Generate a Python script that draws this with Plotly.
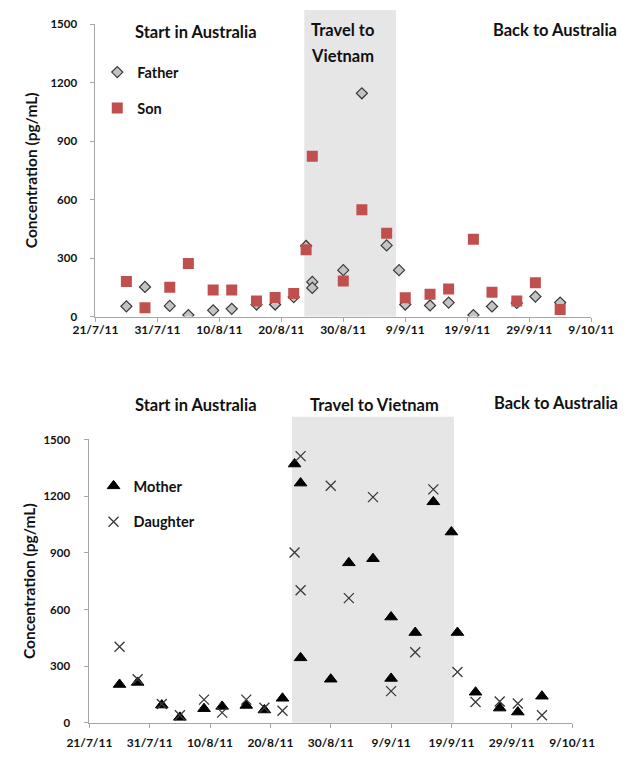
import plotly.graph_objects as go

# ---------------- data ----------------
father_dates = ["2011-07-26", "2011-07-29", "2011-08-02", "2011-08-05", "2011-08-09", "2011-08-12",
                "2011-08-16", "2011-08-19", "2011-08-22", "2011-08-24", "2011-08-25", "2011-08-25",
                "2011-08-30", "2011-09-02", "2011-09-06", "2011-09-08", "2011-09-09", "2011-09-13",
                "2011-09-16", "2011-09-20", "2011-09-23", "2011-09-27", "2011-09-30", "2011-10-04"]
father_vals = [53, 152, 55, 8, 32, 40, 62, 62, 100, 362, 178, 147,
               238, 1145, 365, 238, 62, 57, 72, 8, 52, 70, 103, 72]

son_dates = ["2011-07-26", "2011-07-29", "2011-08-02", "2011-08-05", "2011-08-09", "2011-08-12",
             "2011-08-16", "2011-08-19", "2011-08-22", "2011-08-24", "2011-08-25", "2011-08-30",
             "2011-09-02", "2011-09-06", "2011-09-09", "2011-09-13", "2011-09-16", "2011-09-20",
             "2011-09-23", "2011-09-27", "2011-09-30", "2011-10-04"]
son_vals = [180, 45, 150, 272, 137, 137, 80, 98, 118, 343, 822, 182,
            548, 427, 97, 115, 142, 397, 125, 80, 173, 37]

mother_dates = ["2011-07-26", "2011-07-29", "2011-08-02", "2011-08-05", "2011-08-09", "2011-08-12",
                "2011-08-16", "2011-08-19", "2011-08-22", "2011-08-24", "2011-08-25", "2011-08-25",
                "2011-08-30", "2011-09-02", "2011-09-06", "2011-09-09", "2011-09-09", "2011-09-13",
                "2011-09-16", "2011-09-19", "2011-09-20", "2011-09-23", "2011-09-27", "2011-09-30",
                "2011-10-04"]
mother_vals = [203, 214, 94, 29, 75, 87, 92, 68, 130, 1370, 1269, 344,
               231, 847, 869, 560, 235, 478, 1170, 1010, 478, 162, 78, 57, 141]

daughter_dates = ["2011-07-26", "2011-07-29", "2011-08-02", "2011-08-05", "2011-08-09", "2011-08-12",
                  "2011-08-16", "2011-08-19", "2011-08-22", "2011-08-24", "2011-08-25", "2011-08-25",
                  "2011-08-30", "2011-09-02", "2011-09-06", "2011-09-09", "2011-09-13", "2011-09-16",
                  "2011-09-20", "2011-09-23", "2011-09-27", "2011-09-30", "2011-10-04"]
daughter_vals = [403, 231, 100, 40, 123, 54, 123, 80, 64, 902, 1412, 702,
                 1255, 660, 1195, 168, 374, 1236, 269, 110, 113, 102, 40]

travel_top = ["2011-08-23 17:00", "2011-09-07 12:00"]
travel_bottom = ["2011-08-23 14:00", "2011-09-19 10:00"]

x_range = ["2011-07-21", "2011-10-09"]
y_range = [0, 1500]
phase_labels = ["Start in Australia", "Travel to Vietnam", "Back to Australia"]

# ---------------- style ----------------
FONT = "Lato"
AXIS_GREY = "#a6a6a6"
SHADE = "#e6e6e6"

fig = go.Figure()

fig.add_trace(go.Scatter(
    x=father_dates, y=father_vals, mode="markers", name="Father",
    xaxis="x", yaxis="y", legend="legend", legendgroup="f",
    marker=dict(symbol="diamond", size=8.5, color="#c3c3c3",
                line=dict(color="#3a3a3a", width=1.2))))
fig.add_trace(go.Scatter(
    x=son_dates, y=son_vals, mode="markers", name="Son",
    xaxis="x", yaxis="y", legend="legend", legendgroup="s",
    marker=dict(symbol="square", size=11, color="#c0504d", line=dict(width=0))))
fig.add_trace(go.Scatter(
    x=mother_dates, y=mother_vals, mode="markers", name="Mother",
    xaxis="x2", yaxis="y2", legend="legend2", legendgroup="m",
    marker=dict(symbol="triangle-up", size=11, color="#000000",
                line=dict(color="#000000", width=1))))
fig.add_trace(go.Scatter(
    x=daughter_dates, y=daughter_vals, mode="markers", name="Daughter",
    xaxis="x2", yaxis="y2", legend="legend2", legendgroup="d",
    marker=dict(symbol="x-thin", size=10, color="#3a3a3a",
                line=dict(color="#3a3a3a", width=1.3))))

W, H = 642, 760
top_dom_x = [78 / W, 612 / W]
top_dom_y = [1 - 315 / H, 1 - 17.3 / H]
bot_dom_x = [71.5 / W, 591.5 / W]
bot_dom_y = [1 - 728.3 / H, 1 - 440 / H]

tickfont = dict(family=FONT, size=12, color="#111111", weight="bold")
ytickfont = dict(family=FONT, size=11.5, color="#111111", weight="bold")

def xaxis(domain, anchor, standoff):
    return dict(domain=domain, anchor=anchor, type="date", range=x_range,
                tick0=x_range[0], dtick=10 * 86400000, tickformat="%-d/%-m/%y",
                showgrid=False, zeroline=False, showline=True, linecolor=AXIS_GREY,
                linewidth=1, ticks="outside", ticklen=4, tickcolor=AXIS_GREY,
                tickfont=tickfont, ticklabelstandoff=standoff)

def yaxis(domain, anchor, label_standoff, title_standoff):
    return dict(domain=domain, anchor=anchor, range=y_range, dtick=300,
                showgrid=False, zeroline=False, showline=True, linecolor=AXIS_GREY,
                linewidth=1, ticks="outside", ticklen=4, tickcolor=AXIS_GREY,
                tickfont=ytickfont, ticklabelstandoff=label_standoff,
                title=dict(text="Concentration (pg/mL)", standoff=title_standoff,
                           font=dict(family=FONT, size=15.5, color="#111111", weight="bold")))

label_font = dict(family=FONT, size=16.5, color="#111111", weight="bold")

def ann(text, px, py):
    return dict(text=text, x=px / W, y=1 - py / H, xref="paper", yref="paper",
                showarrow=False, xanchor="center", yanchor="middle", font=label_font)

annotations = [
    ann(phase_labels[0], 186, 25),
    ann("Travel to", 344, 23),
    ann("Vietnam", 344, 50),
    ann(phase_labels[2], 573, 23),
    ann(phase_labels[0], 186, 405),
    ann(phase_labels[1], 379, 405),
    ann(phase_labels[2], 574, 403),
]

shapes = [
    dict(type="rect", xref="x", yref="paper", x0=travel_top[0], x1=travel_top[1],
         y0=top_dom_y[0], y1=1 - 3 / H, fillcolor=SHADE, line=dict(width=0), layer="below"),
    dict(type="rect", xref="x2", yref="paper", x0=travel_bottom[0], x1=travel_bottom[1],
         y0=bot_dom_y[0], y1=1 - 417 / H, fillcolor=SHADE, line=dict(width=0), layer="below"),
]

legend_font = dict(family=FONT, size=14.5, color="#111111", weight="bold")

fig.update_layout(
    width=W, height=H, autosize=False,
    margin=dict(l=0, r=0, t=0, b=0),
    paper_bgcolor="white", plot_bgcolor="rgba(0,0,0,0)",
    xaxis=xaxis(top_dom_x, "y", -2),
    yaxis=yaxis(top_dom_y, "x", 11, 8),
    xaxis2=xaxis(bot_dom_x, "y2", 5),
    yaxis2=yaxis(bot_dom_y, "x2", 12, 3),
    annotations=annotations,
    shapes=shapes,
    legend=dict(x=80 / W, y=1 - 50 / H, xanchor="left", yanchor="top",
                bgcolor="rgba(0,0,0,0)", font=legend_font, tracegroupgap=14,
                itemwidth=30),
    legend2=dict(x=76 / W, y=1 - 471 / H, xanchor="left", yanchor="top",
                 bgcolor="rgba(0,0,0,0)", font=legend_font, tracegroupgap=14,
                 itemwidth=30),
    showlegend=True,
)

fig.write_html("out.html", config={"displayModeBar": False, "staticPlot": True},
               post_script="document.body.style.margin='0px';document.body.style.overflow='hidden';")
